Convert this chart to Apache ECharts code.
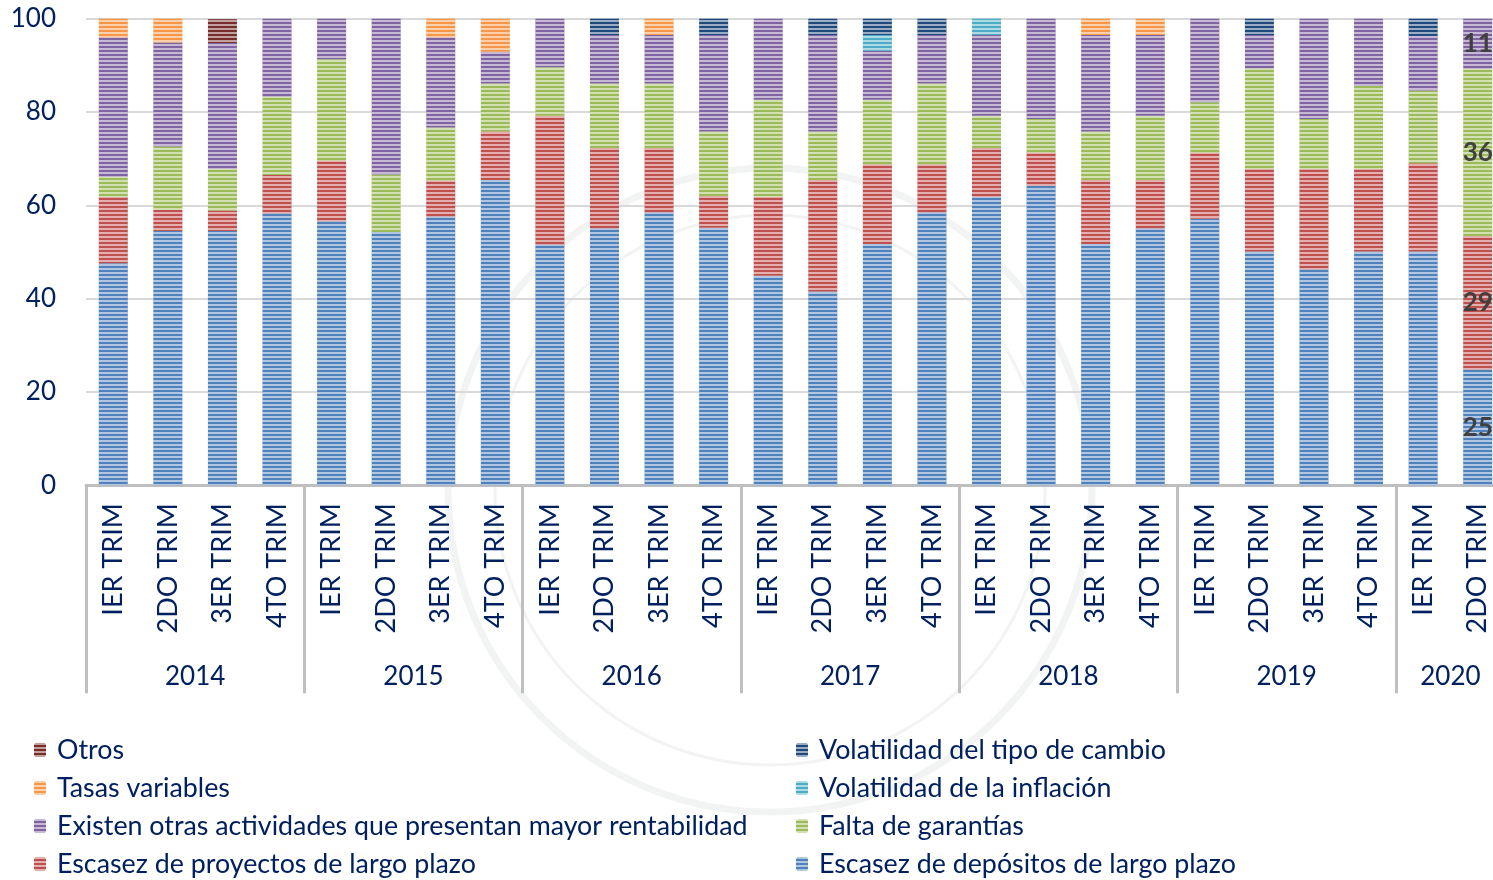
<!DOCTYPE html>
<html>
<head>
<meta charset="utf-8">
<title>Factores que limitan el crédito de largo plazo</title>
<script src="https://cdn.jsdelivr.net/npm/echarts@6/dist/echarts.min.js"></script>
<style>
  html, body { margin: 0; padding: 0; background: #fff; }
  #chart { width: 1493px; height: 880px; }
</style>
</head>
<body>
<div id="chart"></div>
<script>
// categories
var quarters = [
  'IER TRIM', '2DO TRIM', '3ER TRIM', '4TO TRIM',
  'IER TRIM', '2DO TRIM', '3ER TRIM', '4TO TRIM',
  'IER TRIM', '2DO TRIM', '3ER TRIM', '4TO TRIM',
  'IER TRIM', '2DO TRIM', '3ER TRIM', '4TO TRIM',
  'IER TRIM', '2DO TRIM', '3ER TRIM', '4TO TRIM',
  'IER TRIM', '2DO TRIM', '3ER TRIM', '4TO TRIM',
  'IER TRIM', '2DO TRIM'
]
var years = ['2014', '2015', '2016', '2017', '2018', '2019', '2020']
var quartersPerYear = [4, 4, 4, 4, 4, 4, 2]
var yTicks = [0, 20, 40, 60, 80, 100]

// series values (%), bottom to top
var depositos   = [47.6, 54.5, 54.5, 58.3, 56.6, 54.3, 57.6, 65.4, 51.6, 55.1, 58.5, 55.2, 44.9, 41.5, 51.7, 58.5, 61.8, 64.2, 51.7, 55.1, 57.1, 50.1, 46.3, 50.1, 50.1, 24.8]
var proyectos   = [14.2, 4.5, 4.4, 8.2, 13.0, 0, 7.7, 10.4, 27.6, 17.2, 13.8, 6.8, 16.9, 23.9, 17.1, 10.3, 10.5, 7.1, 13.7, 10.3, 14.2, 17.7, 21.5, 17.7, 18.9, 28.6]
var garantias   = [4.3, 13.6, 8.9, 16.8, 21.7, 12.3, 11.4, 10.3, 10.4, 13.8, 13.8, 13.8, 20.8, 10.4, 13.8, 17.3, 6.9, 7.2, 10.4, 13.8, 10.8, 21.6, 10.7, 17.8, 15.6, 35.8]
var otrasAct    = [29.9, 22.3, 27.0, 16.7, 8.7, 33.4, 19.3, 6.8, 10.4, 10.4, 10.4, 20.7, 17.4, 20.7, 10.5, 10.4, 17.3, 21.5, 20.7, 17.3, 17.9, 7.1, 21.5, 14.4, 11.7, 10.8]
var inflacion   = [0, 0, 0, 0, 0, 0, 0, 0, 0, 0, 0, 0, 0, 0, 3.4, 0, 3.5, 0, 0, 0, 0, 0, 0, 0, 0, 0]
var tasas       = [4.0, 5.1, 0, 0, 0, 0, 4.0, 7.1, 0, 0, 3.5, 0, 0, 0, 0, 0, 0, 0, 3.5, 3.5, 0, 0, 0, 0, 0, 0]
var tipoCambio  = [0, 0, 0, 0, 0, 0, 0, 0, 0, 3.5, 0, 3.5, 0, 3.5, 3.5, 3.5, 0, 0, 0, 0, 0, 3.5, 0, 0, 3.7, 0]
var otros       = [0, 0, 5.1, 0, 0, 0, 0, 0, 0, 0, 0, 0, 0, 0, 0, 0, 0, 0, 0, 0, 0, 0, 0, 0, 0, 0]

var navy = '#002060'
var fontFam = 'Lato, "Open Sans", sans-serif'

// year label positions = middle of each year's group of quarters
var yearAt = {}
var acc = 0
for (var i = 0; i < years.length; i++) {
  yearAt[acc + quartersPerYear[i] / 2] = years[i]
  acc += quartersPerYear[i]
}

var labelIdx = quarters.length - 1

function mkSeries(name, data, color) {
  return {
    name: name,
    type: 'bar',
    stack: 'total',
    xAxisIndex: 0,
    barWidth: 29,
    itemStyle: {
      color: color,
      decal: {
        symbol: 'rect',
        symbolSize: 1,
        dashArrayX: [1, 0],
        dashArrayY: [2, 2],
        color: 'rgba(255,255,255,0.55)'
      }
    },
    label: {
      show: false,
      position: 'inside',
      color: '#404040',
      fontWeight: 'bold',
      fontSize: 26,
      fontFamily: fontFam,
      formatter: function (p) { return Math.round(p.value) }
    },
    data: data.map(function (v, i) {
      return (i === labelIdx && v > 0) ? { value: v, label: { show: true } } : v
    })
  }
}

var chart = echarts.init(document.getElementById('chart'))

var legendText = { color: navy, fontSize: 26.8, fontFamily: fontFam, lineHeight: 28, padding: [0, 0, 0, 6] }

chart.setOption({
  animation: false,
  graphic: [
    { type: 'circle', z: -10, shape: { cx: 770, cy: 490, r: 322 }, style: { fill: 'none', stroke: '#f1f4f2', lineWidth: 7 } },
    { type: 'circle', z: -10, shape: { cx: 770, cy: 490, r: 275 }, style: { fill: 'none', stroke: '#f1f4f2', lineWidth: 3 } }
  ],
  grid: {
    left: 86,
    right: -12,
    top: 18.7,
    bottom: 394.8,
    outerBoundsMode: 'none'
  },
  legend: [
    {
      orient: 'vertical',
      left: 34,
      top: 736,
      padding: 0,
      itemWidth: 12,
      itemHeight: 14,
      itemGap: 10,
      textStyle: legendText,
      data: ['Otros', 'Tasas variables', 'Existen otras actividades que presentan mayor rentabilidad', 'Escasez de proyectos de largo plazo']
    },
    {
      orient: 'vertical',
      left: 796,
      top: 736,
      padding: 0,
      itemWidth: 12,
      itemHeight: 14,
      itemGap: 10,
      textStyle: legendText,
      data: ['Volatilidad del tipo de cambio', 'Volatilidad de la inflación', 'Falta de garantías', 'Escasez de depósitos de largo plazo']
    }
  ],
  xAxis: [
    {
      type: 'category',
      data: quarters,
      position: 'bottom',
      axisLine: { lineStyle: { color: '#bfbfbf', width: 3 } },
      axisTick: {
        show: true,
        alignWithLabel: false,
        interval: function (index) { return index % 4 === 0 },
        length: 208,
        lineStyle: { color: '#bfbfbf', width: 3 }
      },
      axisLabel: {
        interval: 0,
        rotate: 90,
        margin: 18,
        color: navy,
        fontSize: 27,
        fontFamily: fontFam
      }
    },
    {
      type: 'value',
      position: 'bottom',
      min: 0,
      max: quarters.length,
      interval: 1,
      axisLine: { show: false },
      axisTick: { show: false },
      splitLine: { show: false },
      axisLabel: {
        margin: 178,
        color: navy,
        fontSize: 26,
        fontFamily: fontFam,
        formatter: function (v) { return yearAt[v] || '' }
      }
    }
  ],
  yAxis: {
    type: 'value',
    min: yTicks[0],
    max: yTicks[yTicks.length - 1],
    interval: 20,
    axisLine: { show: false },
    axisTick: { show: false },
    splitLine: { lineStyle: { color: '#d9d9d9', width: 2 } },
    axisLabel: {
      margin: 30,
      color: navy,
      fontSize: 26,
      fontFamily: fontFam
    }
  },
  series: [
    mkSeries('Escasez de depósitos de largo plazo', depositos, '#4f81bd'),
    mkSeries('Escasez de proyectos de largo plazo', proyectos, '#c0504d'),
    mkSeries('Falta de garantías', garantias, '#9bbb59'),
    mkSeries('Existen otras actividades que presentan mayor rentabilidad', otrasAct, '#8064a2'),
    mkSeries('Volatilidad de la inflación', inflacion, '#4bacc6'),
    mkSeries('Tasas variables', tasas, '#f79646'),
    mkSeries('Volatilidad del tipo de cambio', tipoCambio, '#1f497d'),
    mkSeries('Otros', otros, '#772c2a')
  ]
})
</script>
</body>
</html>
